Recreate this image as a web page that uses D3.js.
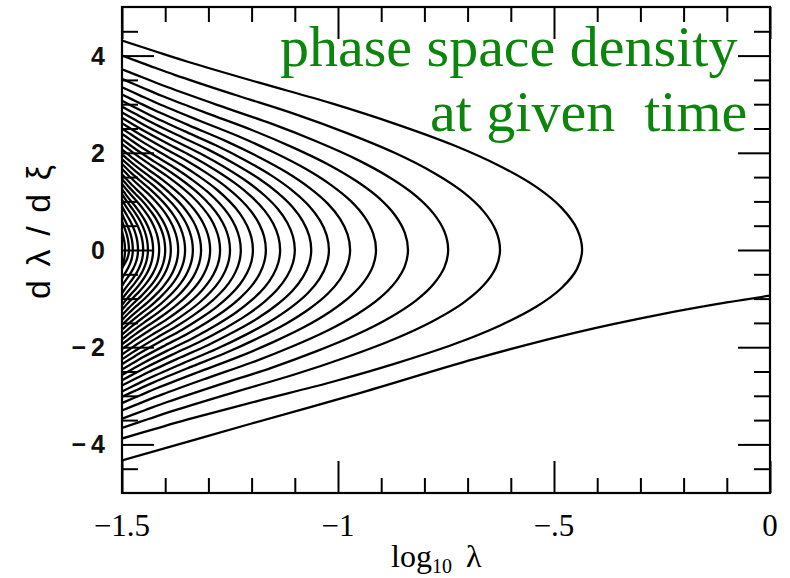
<!DOCTYPE html>
<html>
<head>
<meta charset="utf-8">
<script src="https://cdn.jsdelivr.net/npm/d3@7"></script>
<style>
  body { margin: 0; background: #fff; }
  svg text { white-space: pre; }
</style>
</head>
<body>
<svg id="chart" width="790" height="578"></svg>
<script>
// log10 λ of the apocentre (dλ/dξ = 0) of each closed stream, outermost first
const apocentreLogLambda = [
  -0.435, -0.625, -0.745, -0.838, -0.912, -0.972, -1.021, -1.062, -1.100, -1.134,
  -1.167, -1.197, -1.225, -1.250, -1.273, -1.296, -1.317, -1.336, -1.354, -1.370,
  -1.387, -1.400, -1.414, -1.428, -1.440, -1.451, -1.463, -1.475, -1.484, -1.493
];
// dλ/dξ where each outgoing (upper) branch reaches log10 λ = −1.5
const outgoingEdgeV = [
  4.31, 4.00, 3.72, 3.52, 3.35, 3.20, 3.07, 2.95, 2.83, 2.72,
  2.61, 2.50, 2.39, 2.28, 2.18, 2.07, 1.97, 1.87, 1.77, 1.67,
  1.56, 1.46, 1.36, 1.25, 1.15, 1.03, 0.90, 0.75, 0.60, 0.39
];
// |dλ/dξ| where each returning (lower) branch reaches log10 λ = −1.5
const returningEdgeV = [
  3.88, 3.66, 3.47, 3.30, 3.15, 3.02, 2.91, 2.79, 2.68, 2.57,
  2.46, 2.35, 2.25, 2.15, 2.04, 1.94, 1.84, 1.74, 1.64, 1.54,
  1.44, 1.34, 1.23, 1.13, 1.01, 0.89, 0.74, 0.59, 0.38, 0.37
];
// branch shape: fraction of the edge speed, and how far (as a fraction of the way
// from log10 λ = −1.5 to the apocentre) the stream has got at that speed
const branchSpeed    = [1, 0.95, 0.9, 0.8, 0.7, 0.6, 0.5, 0.4, 0.3, 0.2, 0.1, 0];
const branchFraction = [0, 0.070, 0.141, 0.296, 0.456, 0.597, 0.721, 0.822, 0.901, 0.956, 0.989, 1];

// first-infall stream
const infallLogLambda = [-1.5, -1.2, -0.956, -0.683, -0.45, -0.25, -0.1, 0];
const infallV         = [-4.33, -3.57, -2.96, -2.24, -1.70, -1.32, -1.08, -0.94];

// axis ticks and labels
const xMajorTicks = [-1.5, -1, -0.5, 0];
const xTickLabels = ["\u22121.5", "\u22121", "\u2212.5", "0"];
const xMinorTicks = [-1.4, -1.3, -1.2, -1.1, -0.9, -0.8, -0.7, -0.6, -0.4, -0.3, -0.2, -0.1];
const yMajorTicks = [-4, -2, 0, 2, 4];
const yTickLabels = ["\u22124", "\u22122", "0", "2", "4"];
const yMinorTicks = [-4.5, -3.5, -3, -2.5, -1.5, -1, -0.5, 0.5, 1, 1.5, 2.5, 3, 3.5, 4.5];

const svg = d3.select("#chart");
const frame = { left: 122, right: 770, top: 7, bottom: 493 };

const x = d3.scaleLinear().domain([-1.5, 0]).range([frame.left, frame.right]);
const y = d3.scaleLinear().domain([-5, 5]).range([frame.bottom, frame.top]);

svg.append("defs").append("clipPath").attr("id", "plotClip")
  .append("rect").attr("x", frame.left).attr("y", frame.top)
  .attr("width", frame.right - frame.left).attr("height", frame.bottom - frame.top);

const line = d3.line()
  .x(d => x(d[0])).y(d => y(d[1]))
  .curve(d3.curveCatmullRom.alpha(0.5));

// closed streams: outgoing branch out to the apocentre, then the returning branch back
const streams = apocentreLogLambda.map((apo, k) => {
  const span = apo + 1.5;
  const upper = branchSpeed.map((q, i) => [-1.5 + branchFraction[i] * span, outgoingEdgeV[k] * q]);
  const lower = branchSpeed.slice(0, -1)
    .map((q, i) => [-1.5 + branchFraction[i] * span, -returningEdgeV[k] * q]).reverse();
  return upper.concat(lower);
});

const plot = svg.append("g").attr("clip-path", "url(#plotClip)");

plot.selectAll("path.stream").data(streams).join("path")
  .attr("class", "stream")
  .attr("d", line)
  .attr("fill", "none")
  .attr("stroke", "#000")
  .attr("stroke-width", 2.3);

plot.append("path")
  .datum(infallLogLambda.map((v, i) => [v, infallV[i]]))
  .attr("d", line)
  .attr("fill", "none")
  .attr("stroke", "#000")
  .attr("stroke-width", 2.3);

// ticks on all four sides, pointing inward
function ticks(axisFn, scale, values, size, transform) {
  const g = svg.append("g").attr("transform", transform)
    .call(axisFn(scale).tickValues(values).tickSize(-size).tickFormat(""));
  g.select(".domain").remove();
  g.selectAll(".tick line").attr("stroke", "#000").attr("stroke-width", 2);
}
ticks(d3.axisBottom, x, xMinorTicks, 15, `translate(0,${frame.bottom})`);
ticks(d3.axisBottom, x, xMajorTicks, 32, `translate(0,${frame.bottom})`);
ticks(d3.axisTop, x, xMinorTicks, 15, `translate(0,${frame.top})`);
ticks(d3.axisTop, x, xMajorTicks, 32, `translate(0,${frame.top})`);
ticks(d3.axisLeft, y, yMinorTicks, 16, `translate(${frame.left},0)`);
ticks(d3.axisLeft, y, yMajorTicks, 32, `translate(${frame.left},0)`);
ticks(d3.axisRight, y, yMinorTicks, 16, `translate(${frame.right},0)`);
ticks(d3.axisRight, y, yMajorTicks, 32, `translate(${frame.right},0)`);

// frame
svg.append("rect")
  .attr("x", frame.left).attr("y", frame.top)
  .attr("width", frame.right - frame.left).attr("height", frame.bottom - frame.top)
  .attr("fill", "none").attr("stroke", "#000").attr("stroke-width", 2.2);

// tick labels
svg.selectAll("text.xlab").data(xMajorTicks).join("text")
  .attr("class", "xlab")
  .attr("x", d => x(d)).attr("y", 536)
  .attr("text-anchor", "middle")
  .attr("font-family", "Liberation Serif, serif")
  .attr("font-size", 31)
  .attr("fill", "#000")
  .text((d, i) => xTickLabels[i]);

svg.selectAll("text.ylab").data(yMajorTicks).join("text")
  .attr("class", "ylab")
  .attr("x", 110).attr("y", d => y(d))
  .attr("dy", "0.36em")
  .attr("text-anchor", "end")
  .attr("font-family", "Liberation Sans, Arial, sans-serif")
  .attr("font-weight", "bold")
  .attr("font-size", 25)
  .attr("letter-spacing", 5)
  .attr("fill", "#111")
  .text((d, i) => yTickLabels[i]);

// axis titles
const xTitle = svg.append("text")
  .attr("x", 391).attr("y", 567)
  .attr("font-family", "Liberation Serif, serif")
  .attr("font-size", 32)
  .attr("fill", "#000");
xTitle.append("tspan").text("log");
xTitle.append("tspan").attr("font-size", 20).attr("dy", 6).text("10");
xTitle.append("tspan").attr("dy", -6).attr("dx", 14).text("\u03bb");

svg.append("text")
  .attr("transform", "translate(50,232) rotate(-90)")
  .attr("text-anchor", "middle")
  .attr("font-family", "Liberation Sans, Arial, sans-serif")
  .attr("font-size", 34)
  .attr("textLength", 134)
  .attr("lengthAdjust", "spacing")
  .attr("fill", "#000")
  .text("d\u03bb/d\u03be");

// annotation
const note = svg.append("g")
  .attr("font-family", "Liberation Serif, Times New Roman, serif")
  .attr("font-size", 58)
  .attr("fill", "#0c850c");
note.append("text").attr("x", 280).attr("y", 66).text("phase space density");
note.append("text").attr("x", 430).attr("y", 131).text("at given  time");
</script>
</body>
</html>
